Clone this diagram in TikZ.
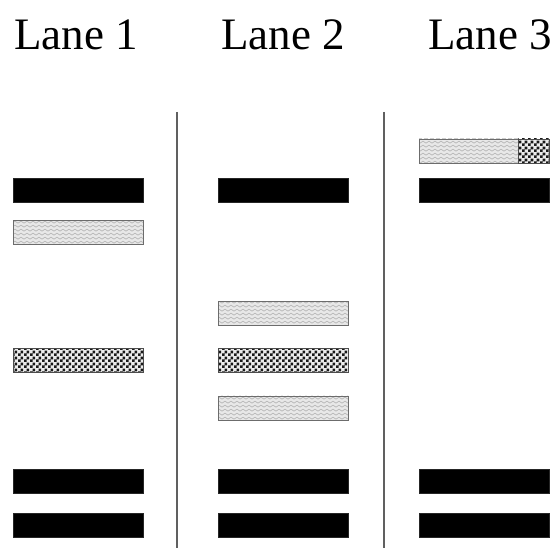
\documentclass[tikz,border=0pt]{standalone}
\usepackage{fontspec}
\setmainfont{Liberation Serif}
\usetikzlibrary{patterns}
\pgfdeclarepatternformonly{mycheck}{\pgfpointorigin}{\pgfqpoint{6pt}{6pt}}{\pgfqpoint{6pt}{6pt}}{%
  \pgfpathrectangle{\pgfpointorigin}{\pgfqpoint{3pt}{3pt}}%
  \pgfpathrectangle{\pgfqpoint{3pt}{3pt}}{\pgfqpoint{3pt}{3pt}}%
  \pgfusepath{fill}}
\pgfdeclarepatternformonly{mywave}{\pgfpoint{-1pt}{-1pt}}{\pgfpoint{7pt}{5pt}}{\pgfpoint{6pt}{4pt}}{%
  \pgfsetlinewidth{0.6pt}%
  \pgfpathmoveto{\pgfpoint{0pt}{0.8pt}}%
  \pgfpathlineto{\pgfpoint{3pt}{2.8pt}}%
  \pgfpathlineto{\pgfpoint{6pt}{0.8pt}}%
  \pgfusepath{stroke}}
\begin{document}
\begin{tikzpicture}[x=1pt,y=-1pt,
  band/.style={minimum width=130pt, minimum height=24pt, inner sep=0pt, outer sep=0pt},
  blackband/.style={band, fill=black, draw=black!85, line width=0.6pt},
  grayband/.style={band, draw=gray!85!black, line width=0.8pt, preaction={fill=gray!18}, pattern=mywave, pattern color=gray!60},
  checkband/.style={band, draw=black!70, line width=0.6pt, preaction={fill=gray!15}, pattern=mycheck, pattern color=black!90},
  lanelabel/.style={anchor=base, font=\fontsize{45pt}{50pt}\selectfont, inner sep=0pt},
  divider/.style={draw=gray!75!black, line width=1.4pt}]
\useasboundingbox (0,0) rectangle (558,548);
% labels
\node[lanelabel] (l1) at (76,50) {Lane 1};
\node[lanelabel] (l2) at (283,50) {Lane 2};
\node[lanelabel] (l3) at (490,50) {Lane 3};
% dividers
\coordinate (d1t) at (177,112); \coordinate (d1b) at (177,548);
\coordinate (d2t) at (384,112); \coordinate (d2b) at (384,548);
\draw[divider] (d1t) -- (d1b);
\draw[divider] (d2t) -- (d2b);
% lane 1
\node[blackband] (a1) at (78,190) {};
\node[grayband] (a2) at (78,232.5) {};
\node[checkband] (a3) at (78,360.5) {};
\node[blackband] (a4) at (78,481.5) {};
\node[blackband] (a5) at (78,525) {};
% lane 2
\node[blackband] (b1) at (283,190) {};
\node[grayband] (b2) at (283,313.5) {};
\node[checkband] (b3) at (283,360.5) {};
\node[grayband] (b4) at (283,408) {};
\node[blackband] (b5) at (283,481.5) {};
\node[blackband] (b6) at (283,525) {};
% lane 3
\node[grayband, minimum width=99pt] (c0) at (468.5,151) {};
\node[checkband, minimum width=31pt] (c0b) at (533.5,151) {};
\node[blackband] (c1) at (484,190) {};
\node[blackband] (c2) at (484,481.5) {};
\node[blackband] (c3) at (484,525) {};
\end{tikzpicture}
\end{document}
